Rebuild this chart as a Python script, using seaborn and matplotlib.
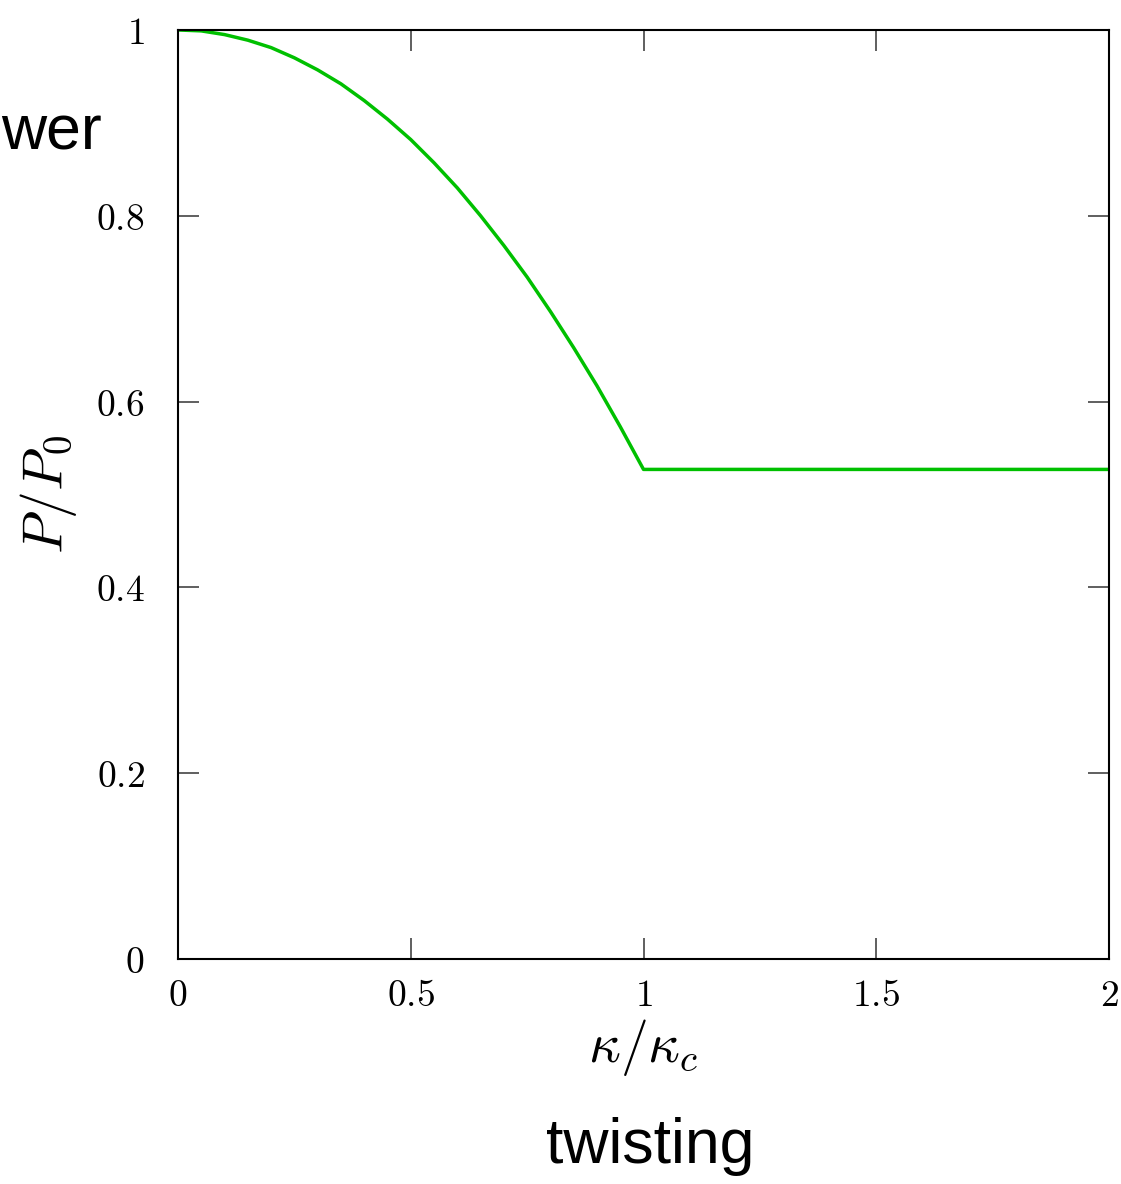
import numpy as np
import pandas as pd
import seaborn as sns
import matplotlib.pyplot as plt

# valeurs
kappa = [0.0, 0.05, 0.1, 0.15, 0.2, 0.25, 0.3, 0.35, 0.4, 0.45, 0.5,
         0.55, 0.6, 0.65, 0.7, 0.75, 0.8, 0.85, 0.9, 0.95, 1.0, 2.0]
puissance = [1.000, 0.999, 0.995, 0.989, 0.981, 0.970, 0.957, 0.942, 0.924, 0.904, 0.882,
             0.857, 0.830, 0.800, 0.768, 0.734, 0.697, 0.658, 0.617, 0.573, 0.527, 0.527]

xticks = [0, 0.5, 1, 1.5, 2]
xtick_labels = ['$0$', '$0.5$', '$1$', '$1.5$', '$2$']
yticks = [0, 0.2, 0.4, 0.6, 0.8, 1]
ytick_labels = ['$0$', '$0.2$', '$0.4$', '$0.6$', '$0.8$', '$1$']

df = pd.DataFrame({'kappa': kappa, 'P': puissance})

sns.set_style('ticks')
plt.rcParams['mathtext.fontset'] = 'cm'
plt.rcParams['text.color'] = 'black'
plt.rcParams['axes.labelcolor'] = 'black'
plt.rcParams['xtick.labelcolor'] = 'black'
plt.rcParams['ytick.labelcolor'] = 'black'

fig = plt.figure(figsize=(11.21, 11.84), dpi=100)
ax = fig.add_axes([0.1588, 0.19, 0.8305, 0.7847])

sns.lineplot(data=df, x='kappa', y='P', color='#00c000', linewidth=2.5, ax=ax)

ax.set_xlim(0, 2)
ax.set_ylim(0, 1)
ax.set_xticks(xticks)
ax.set_xticklabels(xtick_labels)
ax.set_yticks(yticks)
ax.set_yticklabels(ytick_labels)

ax.tick_params(axis='both', direction='in', length=15, width=1.2, color='#444444',
               labelsize=27, labelcolor='black', top=True, right=True)
ax.tick_params(axis='x', pad=14)
ax.tick_params(axis='y', pad=24)

for s in ax.spines.values():
    s.set_linewidth(1.5)
    s.set_color('black')

ax.set_xlabel(r'$\kappa/\kappa_c$', fontsize=40, labelpad=2)
ax.set_ylabel(r'$P/P_0$', fontsize=40, labelpad=12)

# textes autour du graphe
fig.text(1 / 1121, 1 - 150 / 1184, 'wer', fontsize=45, family='Liberation Sans',
         ha='left', va='baseline', color='black')
fig.text(650 / 1121, 1 - 1163 / 1184, 'twisting', fontsize=45, family='Liberation Sans',
         ha='center', va='baseline', color='black')

plt.savefig('out.png', dpi=100)
